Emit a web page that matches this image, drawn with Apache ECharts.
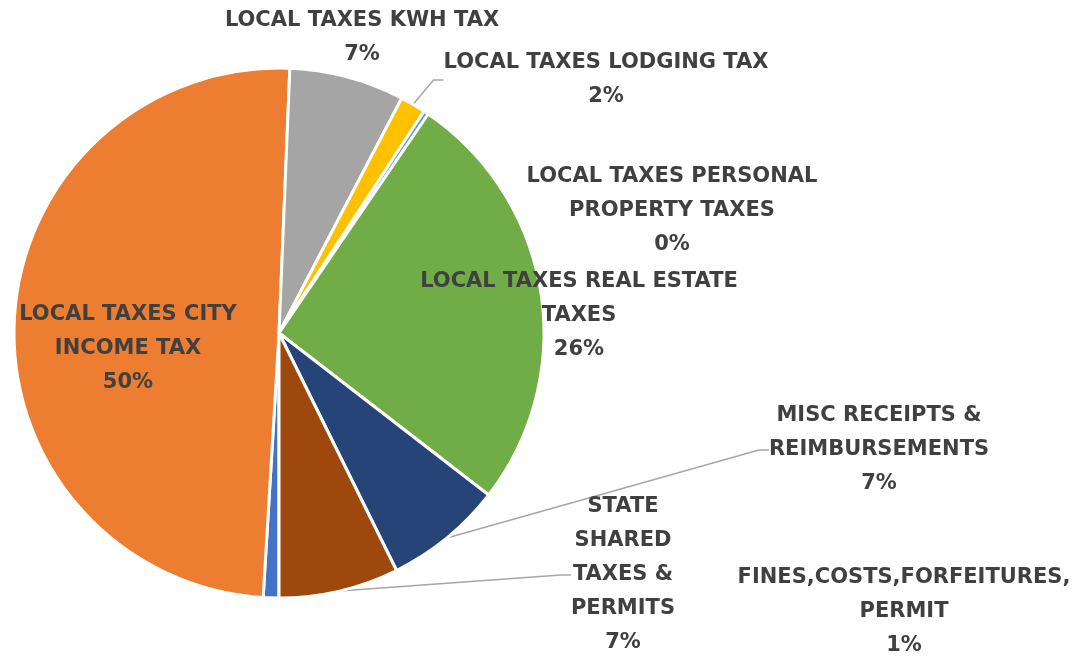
<!DOCTYPE html>
<html>
<head>
<meta charset="utf-8">
<script src="https://cdn.jsdelivr.net/npm/echarts@6/dist/echarts.min.js"></script>
<style>
	html, body { margin: 0; padding: 0; background: #fff; }
	#chart { width: 1083px; height: 656px; }
</style>
</head>
<body>
<div id="chart"></div>
<script>
	// data, in sheet order (clockwise from 6 o'clock)
	var categories = [
		'FINES,COSTS,FORFEITURES, PERMIT',
		'LOCAL TAXES CITY INCOME TAX',
		'LOCAL TAXES KWH TAX',
		'LOCAL TAXES LODGING TAX',
		'LOCAL TAXES PERSONAL PROPERTY TAXES',
		'LOCAL TAXES REAL ESTATE TAXES',
		'MISC RECEIPTS & REIMBURSEMENTS',
		'STATE SHARED TAXES & PERMITS'
	];
	var shares = [0.95, 49.6, 7.0, 1.55, 0.3, 25.9, 7.2, 7.3];
	var labelText = [
		'FINES,COSTS,FORFEITURES,\nPERMIT',
		'LOCAL TAXES CITY\nINCOME TAX',
		'LOCAL TAXES KWH TAX',
		'LOCAL TAXES LODGING TAX',
		'LOCAL TAXES PERSONAL\nPROPERTY TAXES',
		'LOCAL TAXES REAL ESTATE\nTAXES',
		'MISC RECEIPTS &\nREIMBURSEMENTS',
		'STATE\nSHARED\nTAXES &\nPERMITS'
	];
	var colors = ['#4472C4', '#ED7D31', '#A5A5A5', '#FFC000', '#5B9BD5', '#70AD47', '#264478', '#9E480E'];

	// where excel put each label (centre of the text block)
	var labelPos = [
		[904, 612], [128, 349], [362, 38], [606, 80],
		[672, 211], [579, 316], [879, 450], [623, 575]
	];
	var withLine = [false, false, false, true, false, false, true, true];

	var myChart = echarts.init(document.getElementById('chart'));
	myChart.setOption({
		animation: false,
		color: colors,
		series: [
			{
				type: 'pie',
				center: [279, 333],
				radius: 265,
				startAngle: -90,
				clockwise: true,
				avoidLabelOverlap: false,
				itemStyle: { borderColor: '#fff', borderWidth: 3 },
				label: {
					show: true,
					position: 'outside',
					fontFamily: 'DejaVu Sans',
					fontWeight: 'bold',
					fontSize: 21,
					lineHeight: 34,
					color: '#404040',
					align: 'center',
					formatter: function (p) {
						return labelText[p.dataIndex] + '\n' + Math.round(p.percent) + '%';
					}
				},
				labelLine: {
					length: 20,
					length2: 10,
					lineStyle: { color: '#A6A6A6', width: 1.5 }
				},
				labelLayout: function (p) {
					var pos = labelPos[p.dataIndex];
					return { x: pos[0], y: pos[1], align: 'center', verticalAlign: 'middle' };
				},
				data: categories.map(function (name, i) {
					return {
						name: name,
						value: shares[i],
						labelLine: { show: withLine[i] }
					};
				})
			}
		]
	});
</script>
</body>
</html>
